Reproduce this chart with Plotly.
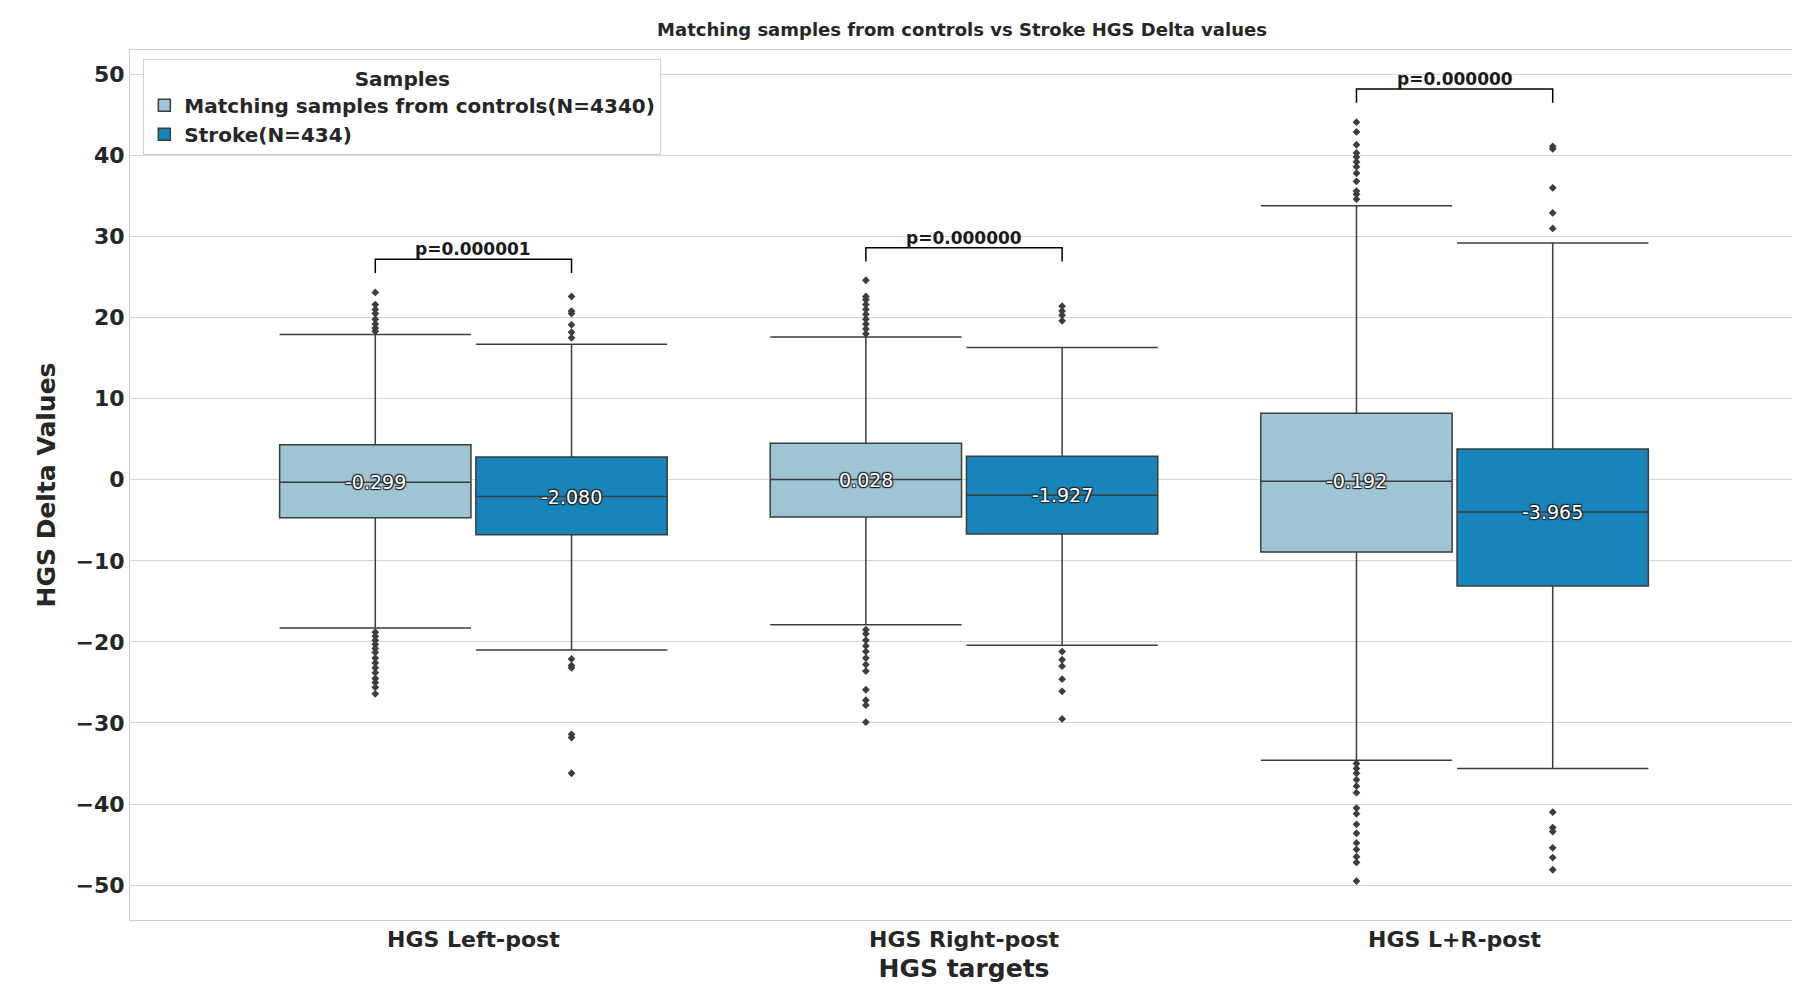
import plotly.graph_objects as go

targets = ["HGS Left-post", "HGS Right-post", "HGS L+R-post"]
groups = ["Matching samples from controls(N=4340)", "Stroke(N=434)"]
colors = ["#9dc5d4", "#1785bb"]

q1 = [[-4.7, -4.6, -8.9], [-6.8, -6.7, -13.1]]
median = [[-0.299, 0.028, -0.192], [-2.080, -1.927, -3.965]]
q3 = [[4.3, 4.5, 8.2], [2.8, 2.9, 3.8]]
lower = [[-18.3, -17.9, -34.6], [-21.0, -20.4, -35.6]]
upper = [[17.9, 17.6, 33.8], [16.7, 16.3, 29.2]]

outliers = [
    [
        [18.3, 18.7, 19.2, 19.8, 20.5, 21.0, 21.6, 23.1, -18.8, -19.3, -19.8, -20.3, -20.8,
         -21.3, -22.0, -22.6, -23.2, -23.8, -24.5, -25.0, -25.6, -26.4],
        [18.0, 18.6, 19.2, 19.8, 20.4, 21.0, 21.6, 22.2, 22.6, 24.6, -18.5, -19.0, -19.8,
         -20.5, -21.2, -22.0, -22.8, -23.6, -25.9, -27.2, -27.8, -29.9],
        [34.6, 35.2, 35.6, 36.8, 37.8, 38.6, 39.2, 39.8, 40.3, 41.3, 42.9, 44.1, -35.0,
         -35.6, -36.2, -37.0, -37.8, -38.6, -40.5, -41.2, -42.5, -43.6, -44.8, -45.6,
         -46.5, -47.2, -49.5],
    ],
    [
        [17.5, 18.2, 19.1, 20.5, 20.8, 22.6, -22.1, -22.9, -23.2, -31.4, -31.8, -36.2],
        [19.6, 20.3, 20.8, 21.4, -21.2, -22.2, -23.0, -24.6, -26.1, -29.5],
        [31.0, 32.9, 36.0, 40.8, 41.1, -41.0, -42.9, -43.4, -45.4, -46.6, -48.1],
    ],
]

p_values = ["p=0.000001", "p=0.000000", "p=0.000000"]
bracket_top = [27.2, 28.6, 48.2]

offsets = [-0.2, 0.2]
fig = go.Figure()
for g in range(2):
    for t in range(3):
        x = t + offsets[g]
        fig.add_trace(go.Box(
            x=[x], q1=[q1[g][t]], median=[median[g][t]], q3=[q3[g][t]],
            lowerfence=[lower[g][t]], upperfence=[upper[g][t]],
            width=0.39, fillcolor=colors[g], line=dict(color="#3d3d3d", width=1.5),
            whiskerwidth=1, boxpoints=False, name=f"<b>{groups[g]}</b>",
            legendgroup=groups[g], showlegend=(t == 0), hoverinfo="skip",
        ))
        fig.add_trace(go.Scatter(
            x=[x] * len(outliers[g][t]), y=outliers[g][t], mode="markers",
            marker=dict(symbol="diamond", size=6, color="#3d3d3d"),
            showlegend=False, hoverinfo="skip",
        ))
        fig.add_annotation(
            x=x, y=median[g][t], text=f"{median[g][t]:.3f}", showarrow=False,
            font=dict(size=19, color="white", family="DejaVu Sans",
                      shadow="1px 1px 1px #222, -1px -1px 1px #222, 1px -1px 1px #222, -1px 1px 1px #222"),
        )

for t in range(3):
    top = bracket_top[t]
    fig.add_shape(type="path",
                  path=f"M {t-0.2},{top-1.7} L {t-0.2},{top} L {t+0.2},{top} L {t+0.2},{top-1.7}",
                  line=dict(color="black", width=1.5))
    fig.add_annotation(x=t, y=top, text=f"<b>{p_values[t]}</b>", showarrow=False,
                       yanchor="bottom", yshift=-2, font=dict(size=17, color="#1a1a1a"))

fig.update_layout(
    width=1800, height=1000,
    paper_bgcolor="white", plot_bgcolor="white",
    font=dict(family="DejaVu Sans", color="#262626"),
    title=dict(text="<b>Matching samples from controls vs Stroke HGS Delta values</b>",
               x=0.53, xanchor="center", y=0.985, font=dict(size=18)),
    margin=dict(l=122, r=10, t=42, b=88),
    legend=dict(title=dict(text="<b>Samples</b>", side="top center", font=dict(size=20)),
                x=0.008, y=0.99, xanchor="left", yanchor="top",
                bgcolor="white", bordercolor="#d0d0d0", borderwidth=1,
                font=dict(size=20), traceorder="normal"),
    xaxis=dict(range=[-0.7, 2.7], tickvals=[0, 1, 2],
               ticktext=[f"<b>{s}</b>" for s in targets], tickfont=dict(size=22),
               title=dict(text="<b>HGS targets</b>", font=dict(size=25), standoff=8),
               showgrid=False, zeroline=False, showline=True, mirror=True,
               linecolor="#cccccc", ticks=""),
    yaxis=dict(range=[-54.3, 53], tickvals=list(range(-50, 51, 10)),
               ticktext=[f"<b>{v}</b>".replace("-", "−") for v in range(-50, 51, 10)],
               tickfont=dict(size=22),
               title=dict(text="<b>HGS Delta Values</b>", font=dict(size=25), standoff=12),
               showgrid=True, gridcolor="#d5d5d5", zeroline=False, showline=True,
               mirror=True, linecolor="#cccccc", ticks=""),
)

fig.write_html("out.html")
